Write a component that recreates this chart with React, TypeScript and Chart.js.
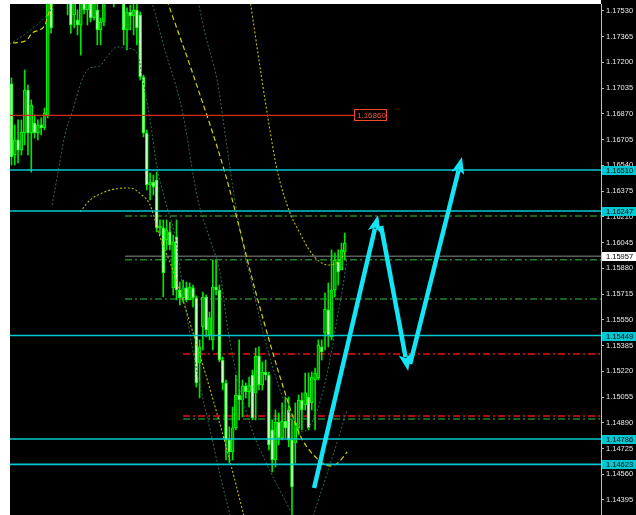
import React, { useEffect, useRef } from "react";
import { Chart, registerables } from "chart.js";

Chart.register(...registerables);

// ---- candle data (bar index 0..101) ----
const openP = [1.17062,1.16606,1.16703,1.16638,1.16747,1.17023,1.16747,1.16812,1.16747,1.16799,1.16780,1.16863,1.17664,1.17696,1.17824,1.17728,1.17856,1.17664,1.17632,1.17504,1.17472,1.17440,1.17632,1.17536,1.17664,1.17485,1.17536,1.17408,1.17459,1.17664,1.17760,1.17696,1.17632,1.17728,1.17632,1.17408,1.17523,1.17497,1.17536,1.17504,1.17106,1.16747,1.16414,1.16433,1.16446,1.16139,1.16139,1.16062,1.16113,1.15754,1.16081,1.15741,1.15690,1.15754,1.15677,1.15754,1.15690,1.15273,1.15504,1.15696,1.15453,1.15421,1.15760,1.15741,1.15292,1.15145,1.14780,1.14703,1.14857,1.15068,1.15036,1.15126,1.15087,1.15196,1.15081,1.15318,1.15132,1.15215,1.15196,1.14844,1.14651,1.14895,1.14792,1.14901,1.14972,1.14780,1.14760,1.14857,1.15036,1.15004,1.15055,1.15017,1.15164,1.15177,1.15376,1.15466,1.15613,1.15440,1.15741,1.15921,1.15869,1.15985];
const highP = [1.17100,1.16799,1.16831,1.16831,1.17151,1.17055,1.16959,1.16863,1.16831,1.16844,1.16908,1.17728,1.17760,1.17921,1.17953,1.17985,1.17921,1.17792,1.17696,1.17728,1.17536,1.17696,1.17728,1.17728,1.17760,1.17792,1.17613,1.17485,1.17728,1.17856,1.17856,1.17792,1.17824,1.17792,1.17696,1.17549,1.17568,1.17600,1.17574,1.17523,1.17119,1.16767,1.16491,1.16478,1.16497,1.16190,1.16190,1.16190,1.16177,1.16094,1.16190,1.15792,1.15805,1.15792,1.15786,1.15773,1.15703,1.15421,1.15728,1.15709,1.15600,1.15933,1.15933,1.15773,1.15312,1.15164,1.14863,1.14991,1.15196,1.15421,1.15164,1.15145,1.15183,1.15228,1.15369,1.15376,1.15280,1.15292,1.15215,1.14908,1.14972,1.14953,1.15017,1.15055,1.15055,1.14908,1.15017,1.15068,1.15081,1.15209,1.15209,1.15215,1.15241,1.15421,1.15421,1.15722,1.15786,1.15998,1.15978,1.15998,1.16042,1.16106];
const lowP = [1.16542,1.16542,1.16555,1.16606,1.16671,1.16606,1.16497,1.16715,1.16703,1.16735,1.16767,1.16844,1.17388,1.17632,1.17651,1.17664,1.17613,1.17504,1.17388,1.17421,1.17376,1.17247,1.17510,1.17440,1.17459,1.17472,1.17312,1.17312,1.17433,1.17619,1.17613,1.17555,1.17600,1.17587,1.17312,1.17280,1.17408,1.17376,1.17312,1.17087,1.16722,1.16382,1.16318,1.16350,1.16113,1.16094,1.15696,1.15998,1.15998,1.15709,1.15677,1.15645,1.15664,1.15664,1.15677,1.15632,1.15119,1.15049,1.15357,1.15440,1.15421,1.15357,1.15709,1.15280,1.15100,1.14651,1.14632,1.14651,1.14844,1.14908,1.14927,1.15049,1.14991,1.14908,1.14908,1.15100,1.15100,1.15164,1.14716,1.14574,1.14607,1.14748,1.14780,1.14792,1.14735,1.14299,1.14632,1.14812,1.14844,1.14972,1.14844,1.14972,1.14844,1.15164,1.15292,1.15357,1.15376,1.15421,1.15696,1.15773,1.15869,1.15933];
const closeP = [1.16594,1.16703,1.16638,1.16754,1.17023,1.16747,1.16927,1.16747,1.16799,1.16780,1.16876,1.17664,1.17421,1.17824,1.17728,1.17856,1.17664,1.17632,1.17440,1.17651,1.17440,1.17632,1.17536,1.17664,1.17485,1.17696,1.17408,1.17459,1.17664,1.17760,1.17696,1.17632,1.17728,1.17632,1.17408,1.17523,1.17497,1.17536,1.17421,1.17106,1.16747,1.16414,1.16433,1.16401,1.16139,1.16151,1.15850,1.16126,1.16030,1.16049,1.15741,1.15690,1.15754,1.15677,1.15760,1.15690,1.15145,1.15376,1.15696,1.15485,1.15562,1.15760,1.15741,1.15292,1.15145,1.14780,1.14703,1.14857,1.15068,1.15036,1.15126,1.15087,1.15132,1.14921,1.15318,1.15132,1.15215,1.15196,1.14748,1.14651,1.14895,1.14792,1.14901,1.14857,1.14780,1.14478,1.14889,1.15036,1.14972,1.15081,1.14857,1.15183,1.15209,1.15389,1.15344,1.15619,1.15453,1.15741,1.15933,1.15857,1.15998,1.16042];

// ---- price axis tick labels ----
const yTicks = [1.1753,1.17365,1.172,1.17035,1.1687,1.16705,1.1654,1.16375,1.1621,1.16045,1.1588,1.15715,1.1555,1.15385,1.1522,1.15055,1.1489,1.14725,1.1456,1.14395];

// ---- horizontal levels ----
const cyanLevels = [1.1651, 1.16247, 1.15449, 1.14786, 1.14623];
const grayLevel = 1.15957;
const redLevel = 1.1686;
const redLevelEnd = 103.8;
const greenDashLevels = [1.16215, 1.15935, 1.15683, 1.14914];
const greenDashStart = [34.4, 34.4, 34.4, 52.0];
const redDashLevels = [1.15331, 1.14933];
const redDashStart = [52.0, 52.0];

// ---- indicator lines: [barIndex, price] ----
const yellowFast = [[0.45,1.17324],[4.7,1.17344],[6.2,1.17388],[10.2,1.1744],[10.8,1.17485],[12.6,1.176],[14.7,1.17728],[45.0,1.17728],[47.4,1.17581],[55.6,1.17087],[64.7,1.16491],[74.4,1.15696],[82.9,1.15081],[87.4,1.14812],[90.2,1.14716],[93.5,1.14645],[96.5,1.14613],[98.9,1.14632],[101.7,1.14703]];
const yellowSlow = [[20.8,1.16241],[23.8,1.16318],[26.8,1.16356],[31.4,1.16389],[35.9,1.16395],[39.5,1.1635],[42.0,1.16286],[45.0,1.16081],[48.9,1.15869],[54.1,1.1553],[61.1,1.15036],[65.3,1.14716],[70.2,1.14312],[71.1,1.14235]];
const yellowMid = [[71.4,1.17728],[72.3,1.176],[75.9,1.17087],[78.3,1.16767],[80.5,1.1651],[84.4,1.16235],[87.4,1.16106],[90.2,1.15998],[93.5,1.15921],[96.5,1.15901],[98.9,1.15921],[101.1,1.15978]];
const bandA = [[-0.45,1.17318],[4.1,1.17382],[10.2,1.17491],[13.2,1.17581],[14.7,1.17664]];
const bandB = [[12.3,1.16286],[13.8,1.16459],[16.2,1.16735],[18.3,1.16876],[21.7,1.17106],[23.8,1.17164],[26.8,1.17177],[28.9,1.17235],[32.0,1.17299],[35.3,1.17292],[38.3,1.17247],[39.8,1.17087],[42.0,1.16831],[44.1,1.1653],[46.5,1.16318],[49.5,1.16094],[52.0,1.15741],[54.1,1.15453],[57.1,1.15132],[60.2,1.14844],[63.2,1.14555],[66.2,1.14299]];
const bandC = [[41.4,1.17664],[42.6,1.17581],[46.5,1.1728],[51.7,1.16895],[56.5,1.16318],[60.2,1.16062],[63.2,1.1585],[65.6,1.15485],[68.6,1.15164],[72.9,1.14844],[76.8,1.14651],[80.8,1.14478],[84.4,1.14331],[85.9,1.14267]];
const bandD = [[91.0,1.14267],[95.0,1.14523],[98.6,1.1476],[101.7,1.14972]];
const bandE = [[55.9,1.17664],[58.6,1.17388],[62.3,1.17087],[65.3,1.16658],[68.3,1.16235],[70.8,1.15965],[72.9,1.15773],[76.8,1.15421],[81.4,1.151],[85.0,1.14921],[88.3,1.14831],[91.4,1.14908],[94.1,1.15068],[96.5,1.15292],[98.6,1.15549],[100.5,1.15773],[101.7,1.15946]];

// ---- drawn arrows: [start, tip] ----
const arrowUp1 = [[91.7,1.14472],[111.1,1.16222]];
const arrowDown = [[112.0,1.16151],[120.2,1.15222]];
const arrowUp2 = [[120.8,1.15267],[136.5,1.16594]];

const X_MIN = -0.45, X_MAX = 178.64;
const Y_MIN = 1.142986, Y_MAX = 1.175742;

const CYAN = "#00c8d2";
const ARROW = "#12e6f6";

export default function App() {
  const ref = useRef<HTMLCanvasElement>(null);

  useEffect(() => {
    const canvas = ref.current;
    if (!canvas) return;

    const lineDs = (pts: number[][], color: string, dash: number[], width: number, order: number, smooth = true) => ({
      type: "line" as const,
      data: pts.map(([x, y]) => ({ x, y })),
      borderColor: color,
      borderWidth: width,
      borderDash: dash,
      pointRadius: 0,
      fill: false,
      cubicInterpolationMode: smooth ? ("monotone" as const) : ("default" as const),
      tension: 0,
      order,
      clip: 0,
    });
    const hLine = (v: number, start: number, color: string, dash: number[], width: number, order: number) =>
      lineDs([[start, v], [X_MAX, v]], color, dash, width, order, false);

    const datasets: any[] = [];
    greenDashLevels.forEach((v, i) => datasets.push(hLine(v, greenDashStart[i], "#23802a", [7, 3, 2, 3], 1.5, 60)));
    redDashLevels.forEach((v, i) => datasets.push(hLine(v, redDashStart[i], "#e41414", [7, 3, 2, 3], 1.5, 60)));
    datasets.push(hLine(grayLevel, 34.4, "#5c5c5c", [], 1.5, 59));

    datasets.push({
      type: "bar",
      data: lowP.map((l, i) => ({ x: i, y: [l, highP[i]] })),
      backgroundColor: "#00e600",
      borderWidth: 0,
      barThickness: 1,
      grouped: false,
      order: 50,
      clip: 0,
    });
    datasets.push({
      type: "bar",
      data: openP.map((o, i) => ({ x: i, y: [o, closeP[i]] })),
      backgroundColor: openP.map((o, i) => (closeP[i] > o ? "#009a00" : "#c4ffc4")),
      borderColor: "#00ff00",
      borderWidth: 1,
      borderSkipped: false,
      barThickness: 3,
      grouped: false,
      order: 49,
      clip: 0,
    });

    const dotGreen = "#2d6f52";
    [bandA, bandB, bandC, bandD, bandE].forEach((b) => datasets.push(lineDs(b, dotGreen, [2, 2], 1, 40)));
    datasets.push(lineDs(yellowFast, "#d2d200", [5, 3], 1.2, 39));
    datasets.push(lineDs(yellowSlow, "#c0c000", [2, 2], 1.1, 39));
    datasets.push(lineDs(yellowMid, "#c0c000", [2, 2], 1.1, 39));

    cyanLevels.forEach((v) => datasets.push(hLine(v, X_MIN, CYAN, [], 1.6, 20)));
    datasets.push(lineDs([[X_MIN, redLevel], [redLevelEnd, redLevel]], "#d42a1a", [], 1.2, 20, false));

    const bgPlugin = {
      id: "bg",
      beforeDraw(chart: any) {
        const { ctx, chartArea } = chart;
        ctx.save();
        ctx.fillStyle = "#ffffff";
        ctx.fillRect(0, 0, chart.width, chart.height);
        ctx.fillStyle = "#000000";
        ctx.fillRect(chartArea.left, chartArea.top, chart.width - chartArea.left, chart.height - chartArea.top);
        ctx.fillRect(chartArea.right, 0, chart.width - chartArea.right, chart.height);
        ctx.restore();
      },
    };

    const arrowPlugin = {
      id: "arrows",
      afterDatasetsDraw(chart: any) {
        const { ctx } = chart;
        const xs = chart.scales.x, ys = chart.scales.y;
        ctx.save();
        ctx.strokeStyle = ARROW;
        ctx.fillStyle = ARROW;
        ctx.lineWidth = 4.5;
        ctx.lineCap = "butt";
        for (const a of [arrowUp1, arrowDown, arrowUp2]) {
          const x0 = xs.getPixelForValue(a[0][0]), y0 = ys.getPixelForValue(a[0][1]);
          const x1 = xs.getPixelForValue(a[1][0]), y1 = ys.getPixelForValue(a[1][1]);
          const dx = x1 - x0, dy = y1 - y0;
          const len = Math.hypot(dx, dy);
          const ux = dx / len, uy = dy / len;
          const hl = 17, hw = 6.5;
          const bx = x1 - ux * hl, by = y1 - uy * hl;
          ctx.beginPath();
          ctx.moveTo(x0, y0);
          ctx.lineTo(bx + ux * 3, by + uy * 3);
          ctx.stroke();
          ctx.beginPath();
          ctx.moveTo(x1, y1);
          ctx.lineTo(bx - uy * hw, by + ux * hw);
          ctx.lineTo(bx + ux * 4, by + uy * 4);
          ctx.lineTo(bx + uy * hw, by - ux * hw);
          ctx.closePath();
          ctx.fill();
        }
        ctx.restore();
      },
    };

    const labelPlugin = {
      id: "labels",
      afterDraw(chart: any) {
        const { ctx, chartArea } = chart;
        const xs = chart.scales.x, ys = chart.scales.y;
        ctx.save();
        ctx.font = '7.5px "Liberation Sans", Arial, sans-serif';
        ctx.textBaseline = "middle";
        ctx.textAlign = "left";
        const box = (v: number, bg: string) => {
          const py = Math.round(ys.getPixelForValue(v));
          ctx.fillStyle = bg;
          ctx.fillRect(chartArea.right + 1, py - 4, chart.width - chartArea.right - 1, 9);
          ctx.fillStyle = "#000000";
          ctx.fillText(v.toFixed(5), chartArea.right + 5, py + 0.5);
        };
        cyanLevels.forEach((v) => box(v, CYAN));
        box(grayLevel, "#ffffff");

        const rx = Math.round(xs.getPixelForValue(redLevelEnd));
        const ry = Math.round(ys.getPixelForValue(redLevel));
        ctx.fillStyle = "#000000";
        ctx.fillRect(rx, ry - 6, 33, 12);
        ctx.strokeStyle = "#f24a2a";
        ctx.lineWidth = 1;
        ctx.strokeRect(rx + 0.5, ry - 5.5, 32, 11);
        ctx.fillStyle = "#f25a32";
        ctx.font = '8px "Liberation Sans", Arial, sans-serif';
        ctx.fillText(redLevel.toFixed(5), rx + 3, ry + 0.5);
        ctx.restore();
      },
    };

    const chart = new Chart(canvas, {
      type: "bar",
      data: { datasets },
      options: {
        responsive: false,
        animation: false,
        devicePixelRatio: 1,
        events: [],
        layout: { padding: { left: 10, top: 4, right: 0, bottom: 0 } },
        plugins: { legend: { display: false }, tooltip: { enabled: false } },
        scales: {
          x: { type: "linear", min: X_MIN, max: X_MAX, display: false, offset: false },
          y: {
            type: "linear",
            position: "right",
            min: Y_MIN,
            max: Y_MAX,
            bounds: "data",
            afterBuildTicks: (s: any) => {
              s.ticks = yTicks.map((v) => ({ value: v }));
            },
            afterFit: (s: any) => {
              s.width = 35;
              s.paddingTop = 0;
              s.paddingBottom = 0;
            },
            grid: { drawOnChartArea: false, drawTicks: true, tickLength: 3, color: "#bdbdbd", lineWidth: 1 },
            border: { display: true, color: "#bdbdbd", width: 1 },
            ticks: {
              color: "#e6e6e6",
              font: { family: "Liberation Sans", size: 7.5 },
              padding: 2,
              autoSkip: false,
              callback: (v: any) => Number(v).toFixed(5),
            },
          },
        },
      } as any,
      plugins: [bgPlugin, arrowPlugin, labelPlugin],
    });

    return () => chart.destroy();
  }, []);

  return (
    <div style={{ position: "absolute", left: 0, top: 0, width: 636, height: 515, background: "#ffffff" }}>
      <canvas ref={ref} width={636} height={515} style={{ display: "block" }} />
    </div>
  );
}
